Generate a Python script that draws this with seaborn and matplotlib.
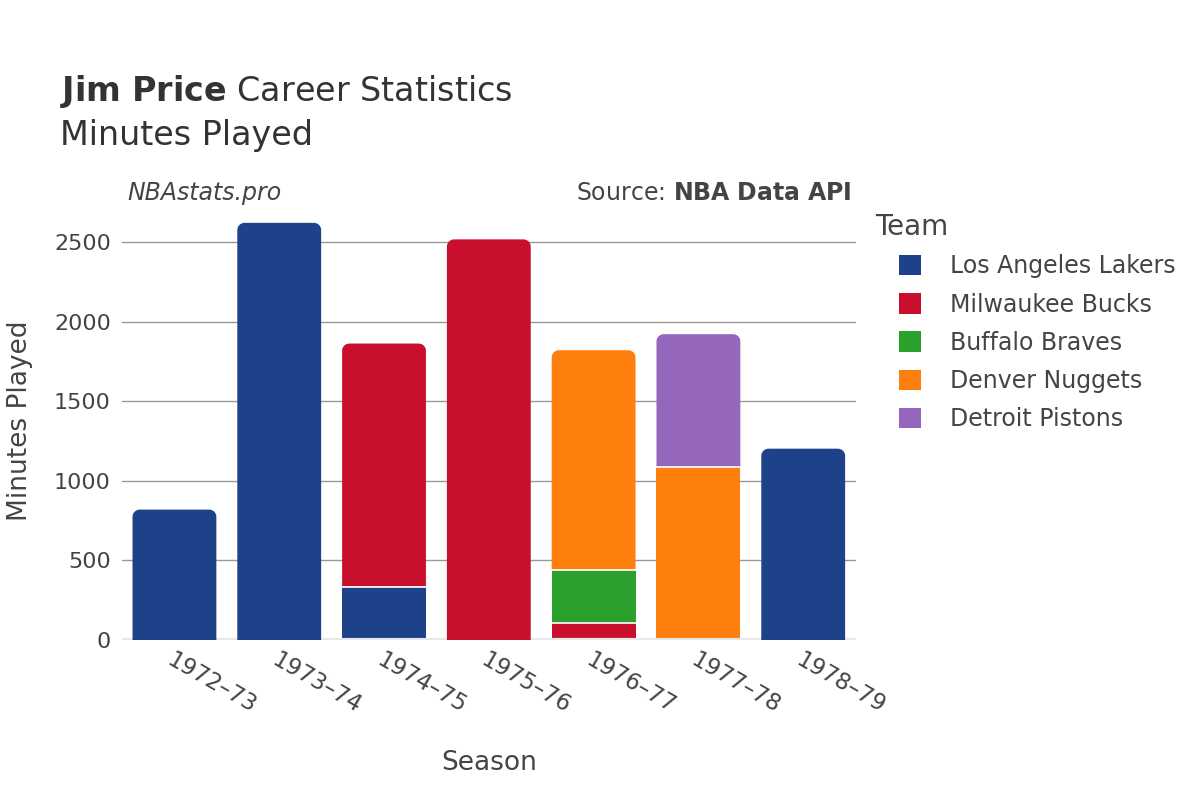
import matplotlib
matplotlib.use("Agg")
import matplotlib.pyplot as plt
import seaborn as sns
import pandas as pd
import numpy as np
from matplotlib.patches import Polygon, Patch

seasons = ["1972–73", "1973–74", "1974–75", "1975–76", "1976–77", "1977–78", "1978–79"]
teams = ["Los Angeles Lakers", "Milwaukee Bucks", "Buffalo Braves", "Denver Nuggets", "Detroit Pistons"]
colors = ["#1d428a", "#c8102e", "#2ca02c", "#ff7f0e", "#9467bd"]

lakers  = [820, 2623, 336, 0, 0, 0, 1203]
bucks   = [0, 0, 1528, 2519, 109, 0, 0]
braves  = [0, 0, 0, 0, 332, 0, 0]
nuggets = [0, 0, 0, 0, 1381, 1087, 0]
pistons = [0, 0, 0, 0, 0, 836, 0]
series = [lakers, bucks, braves, nuggets, pistons]

sns.set_theme(style="white")
plt.rcParams['font.family'] = ['DejaVu Sans']
txt = "#444444"

fig = plt.figure(figsize=(12, 8), dpi=100)
ax = fig.add_axes([0.1017, 0.2, 0.6113, 0.5475])

bottom = np.zeros(len(seasons))
top_patch = {}
for team, vals, col in zip(teams, series, colors):
    df = pd.DataFrame({"Season": seasons, "Minutes": vals})
    n_before = len(ax.patches)
    sns.barplot(data=df, x="Season", y="Minutes", color=col, order=seasons,
                bottom=bottom, width=0.8, edgecolor="none", linewidth=0,
                saturation=1, ax=ax, errorbar=None)
    new = ax.patches[n_before:]
    for i, p in enumerate(new):
        if vals[i] > 0:
            top_patch[i] = (p, col)
        else:
            p.set_visible(False)
        if vals[i] > 0 and bottom[i] > 0:
            ax.plot([p.get_x(), p.get_x() + p.get_width()], [bottom[i], bottom[i]],
                    color="white", lw=1.2, zorder=3)
    bottom = bottom + np.array(vals)

ymax = 2754
ax.set_ylim(0, ymax)
ax.set_xlim(-0.5, len(seasons) - 0.5)

# round top corners of the top segment of each stack
rx = 0.07
ry = 45.0
t = np.linspace(0, np.pi / 2, 12)
for i, (p, col) in top_patch.items():
    x, y, w, h = p.get_x(), p.get_y(), p.get_width(), p.get_height()
    p.set_visible(False)
    top = y + h
    pts = [(x, y), (x + w, y)]
    cx, cy = x + w - rx, top - ry
    pts += [(cx + rx * np.cos(a), cy + ry * np.sin(a)) for a in t]
    cx, cy = x + rx, top - ry
    pts += [(cx + rx * np.cos(a), cy + ry * np.sin(a)) for a in t + np.pi / 2]
    poly = Polygon(pts, closed=True, facecolor=col, edgecolor="none", zorder=2)
    ax.add_patch(poly)

ax.set_yticks([0, 500, 1000, 1500, 2000, 2500])
ax.yaxis.grid(True, color="#999999", linewidth=1)
ax.set_axisbelow(True)
for s in ax.spines.values():
    s.set_visible(False)
ax.axhline(0, color="#e8e8e8", lw=3, zorder=1)
ax.tick_params(axis="y", labelsize=16, colors=txt, length=0, pad=8)
ax.tick_params(axis="x", labelsize=16.5, colors=txt, length=0, pad=6)
for lab in ax.get_xticklabels():
    lab.set_rotation(-30)
    lab.set_ha("left")
    lab.set_rotation_mode("anchor")
ax.set_xlabel("Season", fontsize=19, color=txt)
ax.set_ylabel("Minutes Played", fontsize=19, color=txt)
ax.xaxis.set_label_coords(0.5, -0.25)
ax.yaxis.set_label_coords(-0.122, 0.5)

fig.text(0.05, 0.874, r"$\bf{Jim\ Price}$" + " Career Statistics", fontsize=24, color="#333333", va="baseline")
fig.text(0.05, 0.819, "Minutes Played", fontsize=24, color="#333333", va="baseline")
fig.text(0.106, 0.75, "NBAstats.pro", fontsize=17, color=txt, style="italic", va="baseline")
fig.text(0.71, 0.75, r"Source: $\bf{NBA\ Data\ API}$", fontsize=17, color=txt, ha="right", va="baseline")

fig.text(0.729, 0.706, "Team", fontsize=20, color=txt, va="baseline")
handles = [Patch(facecolor=c, edgecolor="none") for c in colors]
leg = fig.legend(handles, teams, loc="upper left", bbox_to_anchor=(0.749, 0.682),
                 frameon=False, fontsize=17, labelspacing=0.6,
                 handlelength=0.95, handleheight=0.95, handletextpad=1.2,
                 borderaxespad=0, borderpad=0)
for tx in leg.get_texts():
    tx.set_color(txt)

fig.savefig("out.png", dpi=100)
